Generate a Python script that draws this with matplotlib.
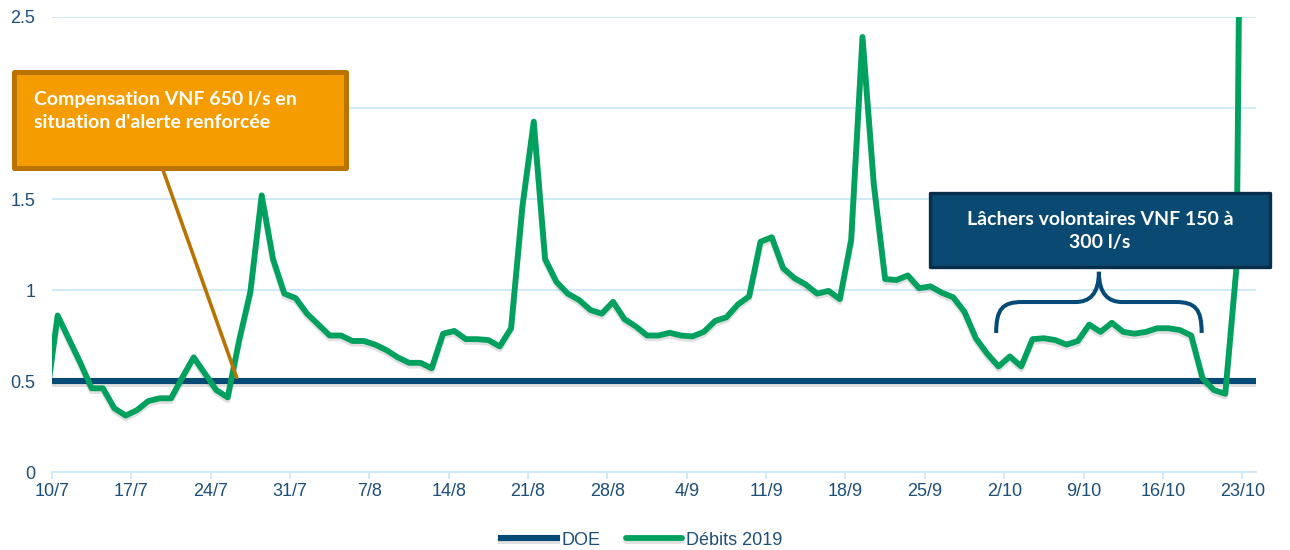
import pandas as pd
import matplotlib
matplotlib.use("Agg")
import matplotlib.pyplot as plt
import matplotlib.dates as mdates
import matplotlib.patheffects as pe
from matplotlib.patches import Rectangle, PathPatch
from matplotlib.path import Path

# Débits journaliers 2019 (m3/s), du 9/7 au 23/10
jours = pd.date_range("2019-07-09", "2019-10-23", freq="D")
debits_2019 = [
    0.40, 0.86, 0.73, 0.60, 0.46, 0.46, 0.35, 0.31, 0.34, 0.39,
    0.405, 0.405, 0.52, 0.63, 0.54, 0.45, 0.41, 0.72, 0.99, 1.52,
    1.17, 0.98, 0.955, 0.87, 0.81, 0.75, 0.75, 0.72, 0.72, 0.70,
    0.67, 0.63, 0.60, 0.60, 0.57, 0.76, 0.775, 0.73, 0.73, 0.725,
    0.69, 0.79, 1.46, 1.925, 1.17, 1.045, 0.98, 0.945, 0.89, 0.87,
    0.935, 0.84, 0.80, 0.75, 0.75, 0.765, 0.75, 0.745, 0.77, 0.83,
    0.85, 0.92, 0.965, 1.265, 1.29, 1.12, 1.065, 1.03, 0.98, 0.995,
    0.95, 1.275, 2.39, 1.58, 1.06, 1.055, 1.08, 1.01, 1.02, 0.985,
    0.96, 0.88, 0.735, 0.65, 0.58, 0.635, 0.58, 0.73, 0.735, 0.725,
    0.70, 0.72, 0.81, 0.77, 0.82, 0.77, 0.76, 0.77, 0.79, 0.79,
    0.78, 0.75, 0.515, 0.45, 0.43, 1.13, 8.0,
]
DOE = 0.5

y_ticks = [0, 0.5, 1, 1.5, 2, 2.5]
y_labels = ["0", "0.5", "1", "1.5", "2", "2.5"]
x_ticks = pd.date_range("2019-07-10", "2019-10-23", freq="7D")
x_labels = [f"{d.day}/{d.month}" for d in x_ticks]

texte_compensation = "Compensation VNF 650 l/s en\nsituation d'alerte renforcée"
texte_lachers = "Lâchers volontaires VNF 150 à\n300 l/s"

BLEU = "#064a77"
VERT = "#00a05e"
TEXTE = "#1c4e7a"
GRILLE = "#cde8f9"
ORANGE = "#f59c00"
ORANGE_BORD = "#b87300"

plt.rcParams["font.family"] = ["Liberation Sans", "DejaVu Sans"]

fig = plt.figure(figsize=(12.9, 5.5), dpi=100)
ax = fig.add_axes([0.0403, 0.1418, 0.9333, 0.8273])

ombre = [pe.SimpleLineShadow(offset=(0, -2), alpha=0.12, shadow_color="black"), pe.Normal()]

# points placés au milieu de chaque journée
x = jours + pd.Timedelta(hours=12)
ax.axhline(DOE, color=BLEU, lw=4.4, label="DOE", zorder=3, path_effects=ombre)
ax.plot(x, debits_2019, color=VERT, lw=4.2, label="Débits 2019",
        solid_joinstyle="round", solid_capstyle="round", zorder=4, path_effects=ombre)

ax.set_xlim(pd.Timestamp("2019-07-10"), pd.Timestamp("2019-10-24 05:00"))
ax.set_ylim(0, 2.5)
ax.set_yticks(y_ticks, y_labels)
ax.set_xticks(x_ticks, x_labels)

ax.grid(axis="y", color=GRILLE, lw=1.3)
ax.set_axisbelow(True)
for s in ["top", "right", "left"]:
    ax.spines[s].set_visible(False)
ax.spines["bottom"].set_color(GRILLE)
ax.spines["bottom"].set_linewidth(1.3)
ax.tick_params(axis="y", length=0, pad=12, labelsize=13, labelcolor=TEXTE)
ax.tick_params(axis="x", length=5, width=1.3, color=GRILLE, pad=3, labelsize=13, labelcolor=TEXTE)

# encadré orange et son trait de rappel
fin_rappel = mdates.date2num(pd.Timestamp("2019-07-26 07:00"))
ax.annotate("", xy=(fin_rappel, 0.52), xycoords="data",
            xytext=(0.0922, 0.6637), textcoords="axes fraction",
            arrowprops=dict(arrowstyle="-", color=ORANGE_BORD, lw=2.6, shrinkA=0, shrinkB=0),
            zorder=5)
ax.add_patch(Rectangle((-0.0312, 0.6680), 0.2750, 0.2110, transform=ax.transAxes,
                       facecolor=ORANGE, edgecolor=ORANGE_BORD, lw=3.6,
                       joinstyle="round", clip_on=False, zorder=6))
ax.text(-0.0150, 0.7930, texte_compensation, transform=ax.transAxes,
        ha="left", va="center", color="white", fontsize=14, fontweight="bold",
        family=["Lato", "DejaVu Sans"], linespacing=1.4, zorder=7, clip_on=False)

# encadré bleu
ax.add_patch(Rectangle((0.7290, 0.4505), 0.2830, 0.1630, transform=ax.transAxes,
                       facecolor="#0a4a72", edgecolor="#072f4c", lw=2.4,
                       joinstyle="round", clip_on=False, zorder=6))
ax.text(0.8704, 0.5297, texte_lachers, transform=ax.transAxes,
        ha="center", va="center", color="white", fontsize=14, fontweight="bold",
        family=["Lato", "DejaVu Sans"], linespacing=1.45, zorder=7, clip_on=False)


def accolade(ax, debut, fin, y_bas, y_haut, y_pointe, **kw):
    """Accolade horizontale ouverte vers le bas, pointe au milieu."""
    x0 = mdates.date2num(debut)
    x1 = mdates.date2num(fin)
    w = x1 - x0
    h = y_haut - y_bas
    xm = x0 + w / 2
    y_c = y_haut + 0.26 * (y_pointe - y_haut)
    verts = [
        (x0, y_bas),
        (x0, y_bas + 0.77 * h), (x0 + 0.03 * w, y_haut), (x0 + 0.127 * w, y_haut),
        (x0 + 0.386 * w, y_haut),
        (x0 + 0.454 * w, y_haut), (xm, y_c), (xm, y_pointe),
        (xm, y_c), (x1 - 0.454 * w, y_haut), (x1 - 0.386 * w, y_haut),
        (x1 - 0.127 * w, y_haut),
        (x1 - 0.03 * w, y_haut), (x1, y_bas + 0.77 * h), (x1, y_bas),
    ]
    codes = [Path.MOVETO,
             Path.CURVE4, Path.CURVE4, Path.CURVE4,
             Path.LINETO,
             Path.CURVE4, Path.CURVE4, Path.CURVE4,
             Path.CURVE4, Path.CURVE4, Path.CURVE4,
             Path.LINETO,
             Path.CURVE4, Path.CURVE4, Path.CURVE4]
    ax.add_patch(PathPatch(Path(verts, codes), fill=False, **kw))


accolade(ax, pd.Timestamp("2019-10-01 07:00"), pd.Timestamp("2019-10-19 10:00"),
         0.764, 0.934, 1.10, edgecolor=BLEU, lw=2.9, capstyle="butt", zorder=5)

fig.legend(loc="center", bbox_to_anchor=(0.4977, 0.018), ncol=2, frameon=False,
           fontsize=13, labelcolor=TEXTE, handlelength=3.1, handletextpad=0.25,
           columnspacing=1.4)

fig.savefig("out.png", dpi=100)
